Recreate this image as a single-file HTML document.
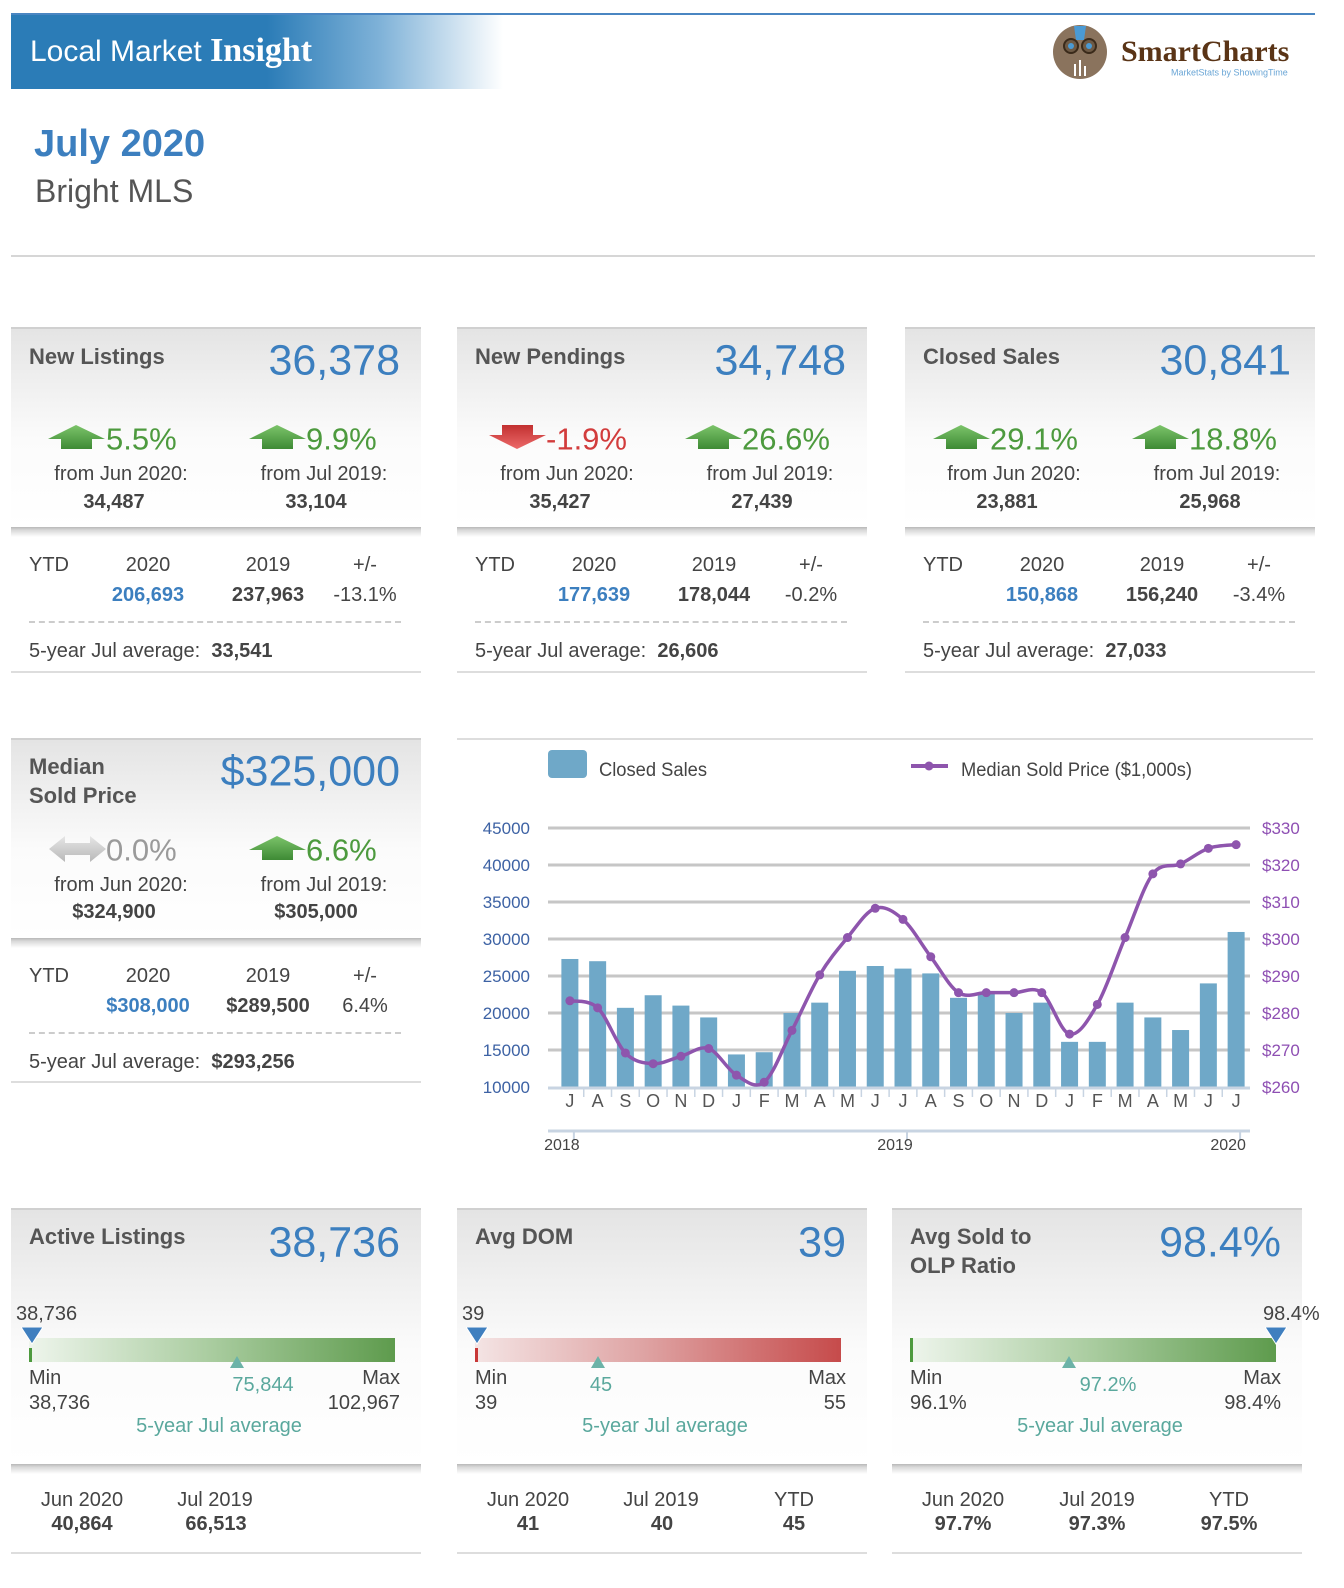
<!DOCTYPE html>
<html><head><meta charset="utf-8">
<style>
*{margin:0;padding:0;box-sizing:border-box}
body{width:1344px;height:1588px;background:#fff;position:relative;overflow:hidden;font-family:"Liberation Sans",Arial,sans-serif;color:#555}
.a{position:absolute;white-space:nowrap;line-height:1;transform:translateY(-50%)}
.c{transform:translate(-50%,-50%)}
.r{transform:translate(-100%,-50%)}
.card{position:absolute;width:410px}
.hd{position:absolute;left:0;top:0;width:410px;border-top:2px solid #d0d0d0;background:linear-gradient(#e4e4e4,#fbfbfb 55%,#fff)}
.sh{position:absolute;left:0;width:410px;height:10px;background:linear-gradient(#b8b8b8,#d8d8d8 30%,rgba(255,255,255,0) )}
.bl{position:absolute;left:0;width:410px;border-top:2px solid #ddd}
.dash{position:absolute;left:18px;width:372px;border-top:2px dashed #ccc}
.tt{font-weight:bold;font-size:22px;color:#555}
.big{font-size:43px;color:#3c7fbf}
.pct{font-size:31px}
.g{color:#4d9a3e}.rd{color:#d23c3c}.gy{color:#9a9a9a}
.f20{font-size:20px;color:#444}
.b20{font-size:20px;font-weight:bold;color:#444}
.blue{color:#3c7fbf}
.teal{color:#5aa89d}
</style></head><body>

<div style="position:absolute;left:11px;top:13px;width:1304px;height:2px;background:#4a86c2"></div>
<div style="position:absolute;left:11px;top:15px;width:492px;height:74px;background:linear-gradient(90deg,#2b7cb7 0%,#2b7cb7 52%,#7fb2d8 75%,#fff 100%)"></div>
<div class="a" style="left:30px;top:51px;color:#fff;font-size:30px">Local Market <span style="font-family:'Liberation Serif',serif;font-weight:bold;font-size:34px">Insight</span></div>

<svg style="position:absolute;left:1052px;top:24px" width="60" height="56" viewBox="0 0 60 56">
<circle cx="28" cy="28" r="27" fill="#8a735d"/>
<path d="M22 2 L34 2 L32 16 L24 16Z" fill="#4a9ad4"/>
<circle cx="19" cy="22" r="7" fill="#6e5a45" stroke="#3a2a1a" stroke-width="2"/>
<circle cx="37" cy="22" r="7" fill="#6e5a45" stroke="#3a2a1a" stroke-width="2"/>
<circle cx="19" cy="22" r="3" fill="#4a9ad4"/><circle cx="37" cy="22" r="3" fill="#4a9ad4"/>
<rect x="22" y="40" width="2" height="12" fill="#fff"/><rect x="27" y="36" width="2" height="16" fill="#fff"/><rect x="32" y="42" width="2" height="10" fill="#fff"/>
</svg>
<div class="a" style="left:1121px;top:52px;font-family:'Liberation Serif',serif;font-weight:bold;font-size:30px;color:#5a3416">SmartCharts</div>
<div class="a" style="left:1171px;top:73px;font-size:9px;color:#6aa6d6">MarketStats by ShowingTime</div>

<div class="a" style="left:34px;top:144px;font-size:38px;font-weight:bold;color:#3c7fbf">July 2020</div>
<div class="a" style="left:35px;top:191px;font-size:32px;color:#555">Bright MLS</div>
<div style="position:absolute;left:11px;top:255px;width:1304px;border-top:2px solid #d6d6d6"></div>

<svg width="0" height="0" style="position:absolute">
<defs>
<linearGradient id="gup" x1="0" y1="0" x2="0" y2="1"><stop offset="0" stop-color="#7cc46a"/><stop offset="1" stop-color="#3e8a35"/></linearGradient>
<linearGradient id="gdn" x1="0" y1="0" x2="0" y2="1"><stop offset="0" stop-color="#c23030"/><stop offset="1" stop-color="#ec6a6a"/></linearGradient>
<linearGradient id="ggy" x1="0" y1="0" x2="0" y2="1"><stop offset="0" stop-color="#e6e6e6"/><stop offset="1" stop-color="#b8b8b8"/></linearGradient>
</defs></svg>

<!-- ============ New Listings ============ -->
<div class="card" style="left:11px;top:327px;height:346px">
 <div class="hd" style="height:201px"></div>
 <div class="sh" style="top:200px"></div>
 <div class="a tt" style="left:18px;top:30px">New Listings</div>
 <div class="a r big" style="left:389px;top:34px">36,378</div>
 <svg style="position:absolute;left:37px;top:98px" width="57" height="24"><polygon points="0,14 28,0 57,14 44,14 44,24 13,24 13,14" fill="url(#gup)"/></svg>
 <div class="a g pct" style="left:95px;top:112px">5.5%</div>
 <svg style="position:absolute;left:238px;top:98px" width="57" height="24"><polygon points="0,14 28,0 57,14 44,14 44,24 13,24 13,14" fill="url(#gup)"/></svg>
 <div class="a g pct" style="left:295px;top:112px">9.9%</div>
 <div class="a c f20" style="left:110px;top:147px">from Jun 2020:</div>
 <div class="a c b20" style="left:103px;top:175px">34,487</div>
 <div class="a c f20" style="left:313px;top:147px">from Jul 2019:</div>
 <div class="a c b20" style="left:305px;top:175px">33,104</div>
 <div class="a f20" style="left:18px;top:238px">YTD</div>
 <div class="a c f20" style="left:137px;top:238px">2020</div>
 <div class="a c f20" style="left:257px;top:238px">2019</div>
 <div class="a c f20" style="left:354px;top:238px">+/-</div>
 <div class="a c b20 blue" style="left:137px;top:268px">206,693</div>
 <div class="a c b20" style="left:257px;top:268px">237,963</div>
 <div class="a c f20" style="left:354px;top:268px">-13.1%</div>
 <div class="dash" style="top:294px"></div>
 <div class="a f20" style="left:18px;top:324px">5-year Jul average:&nbsp; <b>33,541</b></div>
 <div class="bl" style="top:344px"></div>
</div>

<!-- ============ New Pendings ============ -->
<div class="card" style="left:457px;top:327px;height:346px">
 <div class="hd" style="height:201px"></div>
 <div class="sh" style="top:200px"></div>
 <div class="a tt" style="left:18px;top:30px">New Pendings</div>
 <div class="a r big" style="left:389px;top:34px">34,748</div>
 <svg style="position:absolute;left:32px;top:98px" width="57" height="24"><polygon points="13,0 44,0 44,10 57,10 28,24 0,10 13,10" fill="url(#gdn)"/></svg>
 <div class="a rd pct" style="left:89px;top:112px">-1.9%</div>
 <svg style="position:absolute;left:228px;top:98px" width="57" height="24"><polygon points="0,14 28,0 57,14 44,14 44,24 13,24 13,14" fill="url(#gup)"/></svg>
 <div class="a g pct" style="left:285px;top:112px">26.6%</div>
 <div class="a c f20" style="left:110px;top:147px">from Jun 2020:</div>
 <div class="a c b20" style="left:103px;top:175px">35,427</div>
 <div class="a c f20" style="left:313px;top:147px">from Jul 2019:</div>
 <div class="a c b20" style="left:305px;top:175px">27,439</div>
 <div class="a f20" style="left:18px;top:238px">YTD</div>
 <div class="a c f20" style="left:137px;top:238px">2020</div>
 <div class="a c f20" style="left:257px;top:238px">2019</div>
 <div class="a c f20" style="left:354px;top:238px">+/-</div>
 <div class="a c b20 blue" style="left:137px;top:268px">177,639</div>
 <div class="a c b20" style="left:257px;top:268px">178,044</div>
 <div class="a c f20" style="left:354px;top:268px">-0.2%</div>
 <div class="dash" style="top:294px"></div>
 <div class="a f20" style="left:18px;top:324px">5-year Jul average:&nbsp; <b>26,606</b></div>
 <div class="bl" style="top:344px"></div>
</div>

<!-- ============ Closed Sales ============ -->
<div class="card" style="left:905px;top:327px;height:346px">
 <div class="hd" style="height:201px"></div>
 <div class="sh" style="top:200px"></div>
 <div class="a tt" style="left:18px;top:30px">Closed Sales</div>
 <div class="a r big" style="left:386px;top:34px">30,841</div>
 <svg style="position:absolute;left:28px;top:98px" width="57" height="24"><polygon points="0,14 28,0 57,14 44,14 44,24 13,24 13,14" fill="url(#gup)"/></svg>
 <div class="a g pct" style="left:85px;top:112px">29.1%</div>
 <svg style="position:absolute;left:227px;top:98px" width="57" height="24"><polygon points="0,14 28,0 57,14 44,14 44,24 13,24 13,14" fill="url(#gup)"/></svg>
 <div class="a g pct" style="left:284px;top:112px">18.8%</div>
 <div class="a c f20" style="left:109px;top:147px">from Jun 2020:</div>
 <div class="a c b20" style="left:102px;top:175px">23,881</div>
 <div class="a c f20" style="left:312px;top:147px">from Jul 2019:</div>
 <div class="a c b20" style="left:305px;top:175px">25,968</div>
 <div class="a f20" style="left:18px;top:238px">YTD</div>
 <div class="a c f20" style="left:137px;top:238px">2020</div>
 <div class="a c f20" style="left:257px;top:238px">2019</div>
 <div class="a c f20" style="left:354px;top:238px">+/-</div>
 <div class="a c b20 blue" style="left:137px;top:268px">150,868</div>
 <div class="a c b20" style="left:257px;top:268px">156,240</div>
 <div class="a c f20" style="left:354px;top:268px">-3.4%</div>
 <div class="dash" style="top:294px"></div>
 <div class="a f20" style="left:18px;top:324px">5-year Jul average:&nbsp; <b>27,033</b></div>
 <div class="bl" style="top:344px"></div>
</div>

<!-- ============ Median Sold Price ============ -->
<div class="card" style="left:11px;top:738px;height:346px">
 <div class="hd" style="height:201px"></div>
 <div class="sh" style="top:200px"></div>
 <div class="a tt" style="left:18px;top:43px;line-height:29px">Median<br>Sold Price</div>
 <div class="a r big" style="left:389px;top:34px">$325,000</div>
 <svg style="position:absolute;left:38px;top:98px" width="57" height="26"><polygon points="0,13 16,0 16,7 41,7 41,0 57,13 41,26 41,19 16,19 16,26" fill="url(#ggy)"/></svg>
 <div class="a gy pct" style="left:95px;top:112px">0.0%</div>
 <svg style="position:absolute;left:238px;top:98px" width="57" height="24"><polygon points="0,14 28,0 57,14 44,14 44,24 13,24 13,14" fill="url(#gup)"/></svg>
 <div class="a g pct" style="left:295px;top:112px">6.6%</div>
 <div class="a c f20" style="left:110px;top:147px">from Jun 2020:</div>
 <div class="a c b20" style="left:103px;top:174px">$324,900</div>
 <div class="a c f20" style="left:313px;top:147px">from Jul 2019:</div>
 <div class="a c b20" style="left:305px;top:174px">$305,000</div>
 <div class="a f20" style="left:18px;top:238px">YTD</div>
 <div class="a c f20" style="left:137px;top:238px">2020</div>
 <div class="a c f20" style="left:257px;top:238px">2019</div>
 <div class="a c f20" style="left:354px;top:238px">+/-</div>
 <div class="a c b20 blue" style="left:137px;top:268px">$308,000</div>
 <div class="a c b20" style="left:257px;top:268px">$289,500</div>
 <div class="a c f20" style="left:354px;top:268px">6.4%</div>
 <div class="dash" style="top:294px"></div>
 <div class="a f20" style="left:18px;top:324px">5-year Jul average:&nbsp; <b>$293,256</b></div>
 <div class="bl" style="top:343px"></div>
</div>

<!-- ============ Chart ============ -->
<div style="position:absolute;left:457px;top:738px;width:856px;border-top:2px solid #ddd"></div>
<svg id="chart" style="position:absolute;left:0;top:0" width="1344" height="1588">
 <g id="grid"></g><g id="bars"></g><g id="axes"></g><g id="line"></g>
 <rect x="548" y="750" width="39" height="28" rx="4" fill="#6fa8c8"/>
 <text x="599" y="776" font-size="19" fill="#444" textLength="108" lengthAdjust="spacingAndGlyphs">Closed Sales</text>
 <line x1="911" y1="766" x2="948" y2="766" stroke="#8e55ad" stroke-width="4"/>
 <circle cx="929" cy="766" r="4.5" fill="#8e55ad"/>
 <text x="961" y="776" font-size="19" fill="#444" textLength="231" lengthAdjust="spacingAndGlyphs">Median Sold Price ($1,000s)</text>
</svg>

<!-- ============ Active Listings ============ -->
<div class="card" style="left:11px;top:1208px;height:346px">
 <div class="hd" style="height:257px"></div>
 <div class="sh" style="top:256px"></div>
 <div class="a tt" style="left:18px;top:29px">Active Listings</div>
 <div class="a r big" style="left:389px;top:35px">38,736</div>
 <div class="a" style="left:5px;top:106px;font-size:20px;color:#444">38,736</div>
 <div style="position:absolute;left:18px;top:130px;width:366px;height:24px;background:linear-gradient(90deg,#eef5ec,#a9cc9f 50%,#5e9b4d)"></div>
 <div style="position:absolute;left:18px;top:140px;width:3px;height:14px;background:#4d9a3e"></div>
 <svg style="position:absolute;left:10px;top:119px" width="22" height="18"><polygon points="0,0 22,0 11,17" fill="#3f7fbf" stroke="#fff" stroke-width="1"/></svg>
 <svg style="position:absolute;left:219px;top:148px" width="14" height="12"><polygon points="7,0 14,12 0,12" fill="#6cb3a8"/></svg>
 <div class="a" style="left:18px;top:170px;font-size:20px;color:#444">Min</div>
 <div class="a" style="left:18px;top:195px;font-size:20px;color:#444">38,736</div>
 <div class="a r" style="left:389px;top:170px;font-size:20px;color:#444">Max</div>
 <div class="a r" style="left:389px;top:195px;font-size:20px;color:#444">102,967</div>
 <div class="a c teal" style="left:252px;top:177px;font-size:20px">75,844</div>
 <div class="a c teal" style="left:208px;top:218px;font-size:20px">5-year Jul average</div>
 <div class="a c" style="left:71px;top:292px;font-size:20px;color:#444">Jun 2020</div>
 <div class="a c b20" style="left:71px;top:316px">40,864</div>
 <div class="a c" style="left:204px;top:292px;font-size:20px;color:#444">Jul 2019</div>
 <div class="a c b20" style="left:205px;top:316px">66,513</div>
 <div class="bl" style="top:344px"></div>
</div>

<!-- ============ Avg DOM ============ -->
<div class="card" style="left:457px;top:1208px;height:346px">
 <div class="hd" style="height:257px"></div>
 <div class="sh" style="top:256px"></div>
 <div class="a tt" style="left:18px;top:29px">Avg DOM</div>
 <div class="a r big" style="left:389px;top:35px">39</div>
 <div class="a" style="left:5px;top:106px;font-size:20px;color:#444">39</div>
 <div style="position:absolute;left:18px;top:130px;width:366px;height:24px;background:linear-gradient(90deg,#f4e4e4,#dfa5a5 45%,#c64b4b)"></div>
 <div style="position:absolute;left:18px;top:140px;width:3px;height:14px;background:#c83838"></div>
 <svg style="position:absolute;left:9px;top:119px" width="22" height="18"><polygon points="0,0 22,0 11,17" fill="#3f7fbf" stroke="#fff" stroke-width="1"/></svg>
 <svg style="position:absolute;left:134px;top:148px" width="14" height="12"><polygon points="7,0 14,12 0,12" fill="#6cb3a8"/></svg>
 <div class="a" style="left:18px;top:170px;font-size:20px;color:#444">Min</div>
 <div class="a" style="left:18px;top:195px;font-size:20px;color:#444">39</div>
 <div class="a r" style="left:389px;top:170px;font-size:20px;color:#444">Max</div>
 <div class="a r" style="left:389px;top:195px;font-size:20px;color:#444">55</div>
 <div class="a c teal" style="left:144px;top:177px;font-size:20px">45</div>
 <div class="a c teal" style="left:208px;top:218px;font-size:20px">5-year Jul average</div>
 <div class="a c" style="left:71px;top:292px;font-size:20px;color:#444">Jun 2020</div>
 <div class="a c b20" style="left:71px;top:316px">41</div>
 <div class="a c" style="left:204px;top:292px;font-size:20px;color:#444">Jul 2019</div>
 <div class="a c b20" style="left:205px;top:316px">40</div>
 <div class="a c" style="left:337px;top:292px;font-size:20px;color:#444">YTD</div>
 <div class="a c b20" style="left:337px;top:316px">45</div>
 <div class="bl" style="top:344px"></div>
</div>

<!-- ============ Avg Sold to OLP ============ -->
<div class="card" style="left:892px;top:1208px;height:346px">
 <div class="hd" style="height:257px"></div>
 <div class="sh" style="top:256px"></div>
 <div class="a tt" style="left:18px;top:43px;line-height:29px">Avg Sold to<br>OLP Ratio</div>
 <div class="a r big" style="left:389px;top:35px">98.4%</div>
 <div class="a" style="left:371px;top:106px;font-size:20px;color:#444">98.4%</div>
 <div style="position:absolute;left:18px;top:130px;width:366px;height:24px;background:linear-gradient(90deg,#eef5ec,#a9cc9f 50%,#5e9b4d)"></div>
 <div style="position:absolute;left:18px;top:130px;width:3px;height:24px;background:#4d9a3e"></div>
 <svg style="position:absolute;left:373px;top:119px" width="22" height="18"><polygon points="0,0 22,0 11,17" fill="#3f7fbf" stroke="#fff" stroke-width="1"/></svg>
 <svg style="position:absolute;left:170px;top:148px" width="14" height="12"><polygon points="7,0 14,12 0,12" fill="#6cb3a8"/></svg>
 <div class="a" style="left:18px;top:170px;font-size:20px;color:#444">Min</div>
 <div class="a" style="left:18px;top:195px;font-size:20px;color:#444">96.1%</div>
 <div class="a r" style="left:389px;top:170px;font-size:20px;color:#444">Max</div>
 <div class="a r" style="left:389px;top:195px;font-size:20px;color:#444">98.4%</div>
 <div class="a c teal" style="left:216px;top:177px;font-size:20px">97.2%</div>
 <div class="a c teal" style="left:208px;top:218px;font-size:20px">5-year Jul average</div>
 <div class="a c" style="left:71px;top:292px;font-size:20px;color:#444">Jun 2020</div>
 <div class="a c b20" style="left:71px;top:316px">97.7%</div>
 <div class="a c" style="left:205px;top:292px;font-size:20px;color:#444">Jul 2019</div>
 <div class="a c b20" style="left:205px;top:316px">97.3%</div>
 <div class="a c" style="left:337px;top:292px;font-size:20px;color:#444">YTD</div>
 <div class="a c b20" style="left:337px;top:316px">97.5%</div>
 <div class="bl" style="top:344px"></div>
</div>

<script>
const months = ["J","A","S","O","N","D","J","F","M","A","M","J","J","A","S","O","N","D","J","F","M","A","M","J","J"];
const closedSales = [27300,27000,20700,22400,21000,19400,14400,14700,20000,21400,25700,26350,26000,25350,22050,22650,20000,21400,16100,16100,21400,19400,17700,24000,30950];
const medianPrice = [283.3,281.4,269.2,266.3,268.3,270.4,263.2,261.3,275.3,290.3,300.4,308.3,305.3,295.2,285.5,285.5,285.5,285.5,274.3,282.3,300.4,317.6,320.3,324.5,325.5];
const leftTicks = [10000,15000,20000,25000,30000,35000,40000,45000];
const rightTicks = [260,270,280,290,300,310,320,330];
const yearLabels = ["2018","2019","2020"];
const yearIndex = [0,12,24];

const NS="http://www.w3.org/2000/svg";
const X0=556, X1=1250, YB=1087, YT=828;
const bw=(X1-X0)/months.length;
function xc(i){return X0+bw*(i+0.5);}
function yL(v){return YB-(v-10000)/(45000-10000)*(YB-YT);}
function yR(v){return YB-(v-260)/(330-260)*(YB-YT);}
function mk(tag,attrs,parent){const e=document.createElementNS(NS,tag);for(const k in attrs)e.setAttribute(k,attrs[k]);parent.appendChild(e);return e;}

const grid=document.getElementById('grid'), bars=document.getElementById('bars'), axes=document.getElementById('axes'), line=document.getElementById('line');
leftTicks.forEach(v=>{
  if(v>10000){const g=mk('line',{x1:X0-8,x2:X1,y1:yL(v),y2:yL(v),stroke:'#c6c6c6','stroke-width':3},grid);
  
  }
  const t=mk('text',{x:530,y:yL(v)+6,'text-anchor':'end','font-size':17,fill:'#3d62a4'},axes);
  t.textContent=v;
  
  
});
rightTicks.forEach(v=>{
  const t=mk('text',{x:1262,y:yR(v)+6,'font-size':17,fill:'#8e4fb3'},axes);
  t.textContent='$'+v;
  
  
});
closedSales.forEach((v,i)=>{
  const r=mk('rect',{x:xc(i)-8.5,y:yL(v),width:17,height:YB-yL(v),fill:'#6fa8c8'},bars);
  
  
});
mk('line',{x1:X0-8,x2:X1,y1:YB+1,y2:YB+1,stroke:'#c8d4e2','stroke-width':3},axes);
months.forEach((m,i)=>{
  if(i<months.length-1) mk('line',{x1:xc(i)+bw/2,x2:xc(i)+bw/2,y1:YB,y2:YB+10,stroke:'#c8d4e2','stroke-width':1.5},axes);
  const t=mk('text',{x:xc(i),y:YB+20,'text-anchor':'middle','font-size':18,fill:'#555'},axes);
  t.textContent=m;
  
  
});
mk('line',{x1:X0-8,x2:X1,y1:1131,y2:1131,stroke:'#c8d4e2','stroke-width':3},axes);
yearLabels.forEach((y,k)=>{
  const x=xc(yearIndex[k])-8;
  mk('line',{x1:x+12,x2:x+12,y1:1131,y2:1141,stroke:'#c8d4e2','stroke-width':2},axes);
  const t=mk('text',{x:x,y:1150,'text-anchor':'middle','font-size':16,fill:'#444'},axes);
  t.textContent=y;
  
  
});
// smooth line (Catmull-Rom)
const pts=medianPrice.map((v,i)=>[xc(i),yR(v)]);
let d='M'+pts[0][0]+','+pts[0][1];
for(let i=0;i<pts.length-1;i++){
  const p0=pts[Math.max(0,i-1)],p1=pts[i],p2=pts[i+1],p3=pts[Math.min(pts.length-1,i+2)];
  const c1=[p1[0]+(p2[0]-p0[0])/6,p1[1]+(p2[1]-p0[1])/6];
  const c2=[p2[0]-(p3[0]-p1[0])/6,p2[1]-(p3[1]-p1[1])/6];
  d+=' C'+c1[0]+','+c1[1]+' '+c2[0]+','+c2[1]+' '+p2[0]+','+p2[1];
}
const path=mk('path',{d:d,fill:'none',stroke:'#8e55ad','stroke-width':3.5},line);


pts.forEach(p=>{
  const c=mk('circle',{cx:p[0],cy:p[1],r:4.5,fill:'#8e55ad'},line);
  
  
});
</script>
</body></html>
